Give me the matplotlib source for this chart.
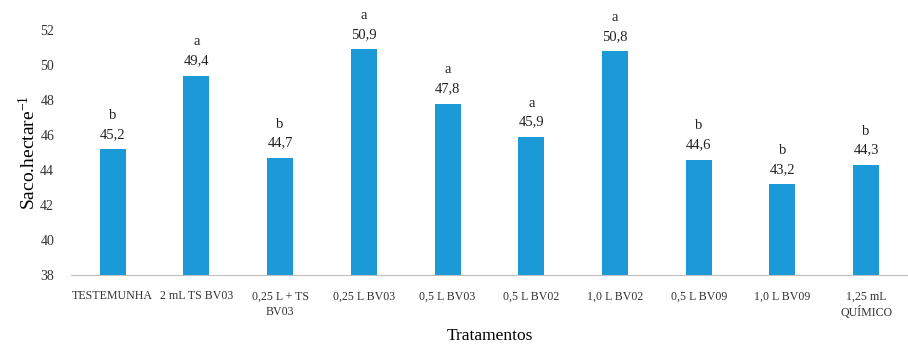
import numpy as np
import matplotlib.pyplot as plt

plt.rcParams['font.family'] = ['Liberation Serif', 'DejaVu Serif']
plt.rcParams['mathtext.fontset'] = 'custom'
plt.rcParams['mathtext.rm'] = 'Liberation Serif'
plt.rcParams['mathtext.it'] = 'Liberation Serif:italic'

tratamentos = ['TESTEMUNHA', '2 mL TS BV03', '0,25 L + TS\nBV03', '0,25 L BV03',
               '0,5 L BV03', '0,5 L BV02', '1,0 L BV02', '0,5 L BV09',
               '1,0 L BV09', '1,25 mL\nQUÍMICO']
valores = [45.2, 49.4, 44.7, 50.9, 47.8, 45.9, 50.8, 44.6, 43.2, 44.3]
letras = ['b', 'a', 'b', 'a', 'a', 'a', 'a', 'b', 'b', 'b']

fig = plt.figure(figsize=(9.08, 3.5), dpi=100)
ax = fig.add_axes([0.078, 0.214, 0.922, 0.7])

x = np.arange(len(tratamentos))
ax.bar(x, valores, width=0.31, color='#1b9ad7')

for xi, v, l in zip(x, valores, letras):
    ax.annotate(f'{l}\n{v:.1f}'.replace('.', ','), (xi, v), xytext=(0, 6),
                textcoords='offset points', ha='center', va='bottom',
                fontsize=10.5, linespacing=1.6, color='#222222')

ax.set_ylim(38, 52)
ax.set_xlim(-0.5, len(tratamentos) - 0.5)
ax.set_yticks(np.arange(38, 53, 2))
ax.set_xticks(x)
ax.set_xticklabels(tratamentos, fontsize=8.6, linespacing=1.4)
ax.tick_params(axis='both', length=0, colors='#333333')
ax.tick_params(axis='y', labelsize=10, pad=12)
ax.tick_params(axis='x', pad=11)

for s in ['top', 'right', 'left']:
    ax.spines[s].set_visible(False)
ax.spines['bottom'].set_color('#bfbfbf')

ax.set_ylabel('Saco.hectare$^{-1}$', fontsize=14)
ax.yaxis.set_label_coords(-0.038, 0.5)
ax.set_xlabel('Tratamentos', fontsize=12.5, labelpad=6)

fig.savefig('out.png', dpi=100)
